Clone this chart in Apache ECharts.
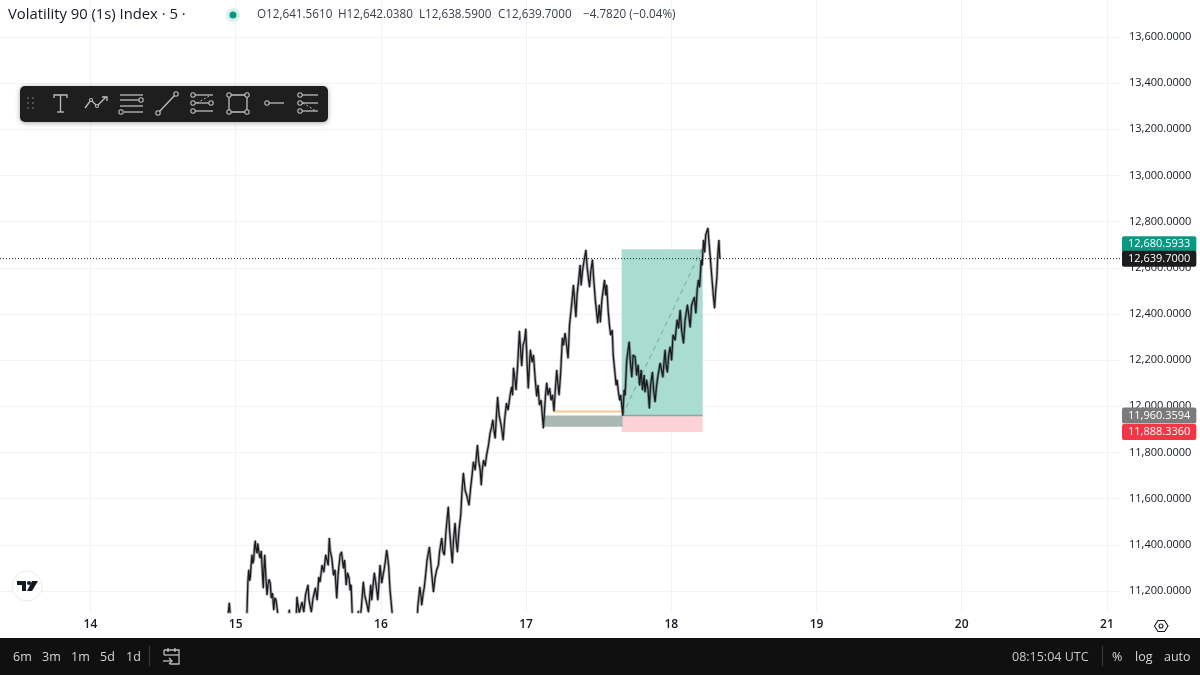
<!DOCTYPE html>
<html>
<head>
<meta charset="utf-8">
<style>html,body{margin:0;padding:0;background:#fff}#chart{width:1200px;height:675px}</style>
<script src="https://cdn.jsdelivr.net/npm/echarts@6/dist/echarts.min.js"></script>
</head>
<body>
<div id="chart"></div>
<script>
// price path, day of month / index level (below 11,109 is off the chart)
const priceDays = [
14.941,14.956,14.968,15.071,15.078,15.084,15.090,15.096,15.101,15.106,15.112,15.118,15.124,15.130,15.135,15.141,15.147,15.152,15.158,15.163,
15.169,15.176,15.183,15.190,15.195,15.200,15.208,15.216,15.222,15.230,15.238,15.245,15.254,15.262,15.270,15.278,15.291,15.296,15.365,15.369,
15.373,15.415,15.422,15.429,15.438,15.457,15.469,15.481,15.498,15.505,15.521,15.533,15.549,15.561,15.572,15.581,15.595,15.607,15.620,15.630,
15.637,15.645,15.650,15.662,15.674,15.684,15.696,15.705,15.719,15.729,15.742,15.750,15.761,15.770,15.781,15.788,15.795,15.802,15.809,15.836,
15.845,15.853,15.860,15.867,15.879,15.888,15.896,15.905,15.914,15.922,15.930,15.937,15.946,15.955,15.967,15.979,15.988,15.994,16.006,16.015,
16.022,16.032,16.040,16.049,16.054,16.063,16.077,16.084,16.249,16.254,16.268,16.277,16.281,16.290,16.299,16.308,16.318,16.334,16.342,16.349,
16.362,16.373,16.384,16.396,16.404,16.419,16.428,16.437,16.449,16.464,16.473,16.483,16.492,16.500,16.511,16.518,16.527,16.538,16.550,16.559,
16.568,16.580,16.594,16.607,16.618,16.628,16.637,16.649,16.665,16.673,16.684,16.691,16.698,16.707,16.718,16.728,16.741,16.752,16.761,16.771,
16.780,16.787,16.796,16.804,16.814,16.828,16.842,16.852,16.865,16.876,16.890,16.900,16.907,16.913,16.924,16.931,16.942,16.954,16.962,16.970,
16.979,16.990,16.998,17.006,17.015,17.023,17.030,17.041,17.051,17.061,17.073,17.082,17.092,17.103,17.119,17.127,17.134,17.142,17.151,17.162,
17.172,17.182,17.192,17.201,17.211,17.220,17.227,17.237,17.250,17.258,17.268,17.279,17.289,17.299,17.310,17.326,17.334,17.343,17.351,17.362,
17.372,17.379,17.389,17.400,17.412,17.421,17.437,17.445,17.457,17.466,17.477,17.493,17.504,17.511,17.522,17.540,17.548,17.555,17.565,17.574,
17.582,17.593,17.600,17.610,17.620,17.627,17.636,17.644,17.651,17.666,17.675,17.682,17.693,17.710,17.717,17.728,17.737,17.751,17.761,17.771,
17.782,17.792,17.802,17.813,17.819,17.830,17.840,17.849,17.857,17.870,17.878,17.888,17.899,17.909,17.923,17.933,17.942,17.951,17.957,17.964,
17.973,17.982,17.992,18.002,18.012,18.026,18.040,18.050,18.061,18.071,18.084,18.095,18.111,18.120,18.130,18.140,18.159,18.169,18.178,18.187,
18.195,18.206,18.213,18.222,18.230,18.237,18.252,18.261,18.268,18.278,18.289,18.298,18.306,18.314,18.320,18.328,18.332,18.334
];
const priceLevels = [
11053,11148,11053,11053,11109,11240,11291,11245,11260,11310,11356,11320,11334,11395,11417,11375,11365,11405,11399,11355,
11343,11373,11290,11213,11300,11356,11260,11183,11225,11250,11235,11170,11190,11118,11170,11161,11096,11053,11053,11118,
11053,11053,11174,11140,11105,11152,11109,11183,11226,11161,11109,11169,11213,11161,11260,11239,11312,11282,11356,11356,
11312,11429,11377,11343,11269,11291,11169,11269,11356,11369,11299,11334,11226,11278,11256,11204,11226,11109,11053,11053,
11113,11053,11053,11139,11239,11183,11191,11139,11109,11161,11226,11161,11226,11278,11226,11161,11247,11312,11235,11269,
11291,11334,11377,11334,11304,11204,11109,11053,11053,11130,11217,11174,11139,11183,11217,11269,11334,11390,11334,11282,
11196,11256,11291,11312,11369,11429,11369,11356,11464,11564,11464,11386,11321,11421,11494,11421,11369,11464,11529,11637,
11711,11637,11607,11572,11646,11702,11759,11724,11832,11767,11724,11659,11724,11767,11741,11789,11832,11884,11906,11941,
11889,11862,11962,12040,11962,11919,11854,11941,12014,11984,12049,12083,12049,12166,12114,12071,12179,12326,12244,12175,
12265,12287,12335,12200,12079,12179,12244,12192,12222,12131,12044,12092,12006,12027,11906,11984,12049,12101,12049,12079,
12027,12049,11980,12071,12157,12092,12049,12135,12296,12265,12317,12265,12209,12352,12417,12525,12460,12387,12482,12547,
12612,12525,12590,12634,12677,12599,12517,12582,12634,12547,12460,12361,12439,12365,12460,12547,12482,12525,12417,12352,
12309,12330,12222,12157,12092,12114,12062,12027,12049,11962,12070,12049,12200,12279,12200,12127,12222,12214,12135,12179,
12092,12157,12071,12135,12062,12114,12071,11992,12092,12148,12071,12019,12092,12135,12187,12157,12127,12200,12244,12179,
12148,12222,12257,12200,12309,12287,12374,12339,12417,12330,12274,12374,12439,12395,12343,12439,12473,12404,12504,12547,
12517,12634,12612,12720,12668,12742,12772,12699,12647,12569,12482,12426,12504,12560,12655,12720,12664,12640
];
const dayTicks = [14, 15, 16, 17, 18, 19, 20, 21];
const priceTicks = [11200, 11400, 11600, 11800, 12000, 12200, 12400, 12600, 12800, 13000, 13200, 13400, 13600];

// position tool: entry, target, stop and the start/end days
const targetPrice = 12680.5933;
const entryPrice = 11960.3594;
const stopPrice = 11888.336;
const lastPrice = 12639.7;
const boxDays = [17.658, 18.216];
const zoneDays = [17.127, 17.665];
const zoneLow = 11912;
const orangeDays = [17.187, 17.66];
const orangePrice = 11978;
const dashDays = [17.662, 18.21];

const tagPrices = [targetPrice, lastPrice, entryPrice, stopPrice];
const tagLabels = ["12,680.5933", "12,639.7000", "11,960.3594", "11,888.3360"];
const tagColors = ["#089981", "#1c1c1e", "#7b7b7d", "#f23645"];

const xMin = 13.377, xMax = 21.09, yMin = 11109, yMax = 13760.3;
const FONT = '"Open Sans", "Noto Sans", sans-serif';

const chart = echarts.init(document.getElementById("chart"));

// toolbar and bottom bar drawing helpers
const ICON = "#bdbdbd";
const line = (pts, w, dash) => ({ type: "polyline", z: 120, shape: { points: pts }, style: { stroke: ICON, lineWidth: w || 1.3, fill: null, lineDash: dash || null } });
const ring = (x, y, r) => ({ type: "circle", z: 121, shape: { cx: x, cy: y, r: r || 2.2 }, style: { stroke: ICON, lineWidth: 1.1, fill: "#1e1e1e" } });
const text = (x, y, s, size, color, extra) => ({
  type: "text", z: 120, x, y,
  style: Object.assign({ text: s, fontSize: size, fill: color, fontFamily: FONT, textVerticalAlign: "middle" }, extra || {}),
});

const toolbar = [
  { type: "rect", z: 119, shape: { x: 20, y: 86, width: 308, height: 36, r: 5 }, style: { fill: "#1e1e1e", shadowBlur: 5, shadowColor: "rgba(0,0,0,0.35)", shadowOffsetY: 1 } },
];
[[28, 98], [33, 98], [28, 103], [33, 103], [28, 108], [33, 108]].forEach(([x, y]) =>
  toolbar.push({ type: "circle", z: 120, shape: { cx: x, cy: y, r: 0.9 }, style: { fill: "#666" } }));
toolbar.push(
  line([[54, 98], [54, 95], [67, 95], [67, 98]]), line([[60.5, 95], [60.5, 112]]), line([[57, 112], [64, 112]]),
  line([[85, 108], [91, 100], [97, 106], [106, 97]]), line([[102, 97], [107, 97], [107, 101]]),
  ring(91, 100, 1.5), ring(97, 106, 1.5),
  line([[120, 95], [143, 95]]), line([[120, 100], [139, 100]]), line([[120, 106], [143, 106]]), line([[124, 112], [143, 112]]),
  ring(141, 100), ring(121, 112),
  line([[159, 112], [175, 95]]), ring(158, 113), ring(176, 94),
  line([[195, 95], [213, 95]]), line([[195, 103], [213, 103]]), line([[195, 111], [213, 111]]), line([[197, 103], [211, 95]], 1, [2, 2]),
  ring(193, 95), ring(193, 103), ring(193, 111), ring(211, 103),
  line([[229, 95], [247, 95], [247, 112], [229, 112], [229, 95]]),
  ring(229, 95), ring(247, 95), ring(229, 112), ring(247, 112),
  line([[268, 103], [284, 103]]), ring(267, 103),
  line([[300, 95], [318, 95]]), line([[300, 103], [318, 103]]), line([[300, 111], [318, 111]]), line([[303, 103], [316, 111]], 1, [2, 2]),
  ring(300, 95), ring(300, 103), ring(300, 111)
);

const footer = [
  { type: "rect", z: 110, shape: { x: 0, y: 638, width: 1200, height: 37 }, style: { fill: "#101010" } },
  { type: "rect", z: 111, shape: { x: 149, y: 646, width: 1, height: 20 }, style: { fill: "#3a3a3a" } },
  { type: "rect", z: 111, shape: { x: 1102, y: 646, width: 1, height: 20 }, style: { fill: "#3a3a3a" } },
  text(13, 657, "6m", 12.5, "#d6d6d6"), text(42, 657, "3m", 12.5, "#d6d6d6"), text(71, 657, "1m", 12.5, "#d6d6d6"),
  text(100, 657, "5d", 12.5, "#d6d6d6"), text(126, 657, "1d", 12.5, "#d6d6d6"),
  line([[164, 650], [179, 650], [179, 664], [170, 664]]), line([[164, 655], [179, 655]]), line([[164, 650], [164, 655]]),
  line([[168, 648], [168, 652]]), line([[175, 648], [175, 652]]),
  line([[163, 661], [172, 661]]), line([[169, 658], [172, 661], [169, 664]]),
  text(1012, 657, "08:15:04 UTC", 12.5, "#c8c8c8"), text(1112, 657, "%", 12.5, "#d6d6d6"),
  text(1135, 657, "log", 12.5, "#d6d6d6"), text(1164, 657, "auto", 12.5, "#d6d6d6"),
];

const header = [
  text(8, 15, "Volatility 90 (1s) Index · 5 ·", 14.8, "#131722"),
  { type: "circle", z: 120, shape: { cx: 233, cy: 15, r: 7 }, style: { fill: "#d9f0ec" } },
  { type: "circle", z: 121, shape: { cx: 233, cy: 15, r: 3.5 }, style: { fill: "#089981" } },
  text(257, 15, "O12,641.5610", 11.7, "#3a3e4a"),
  text(338, 15, "H12,642.0380", 11.7, "#3a3e4a"),
  text(419, 15, "L12,638.5900", 11.7, "#3a3e4a"),
  text(498, 15, "C12,639.7000", 11.7, "#3a3e4a"),
  text(583, 15, "−4.7820 (−0.04%)", 11.7, "#3a3e4a"),
];

const logo = [
  { type: "circle", z: 120, shape: { cx: 27, cy: 586, r: 15 }, style: { fill: "#fff", stroke: "#ececec", lineWidth: 1 } },
  { type: "polygon", z: 121, shape: { points: [[17, 581], [26, 581], [26, 591], [22, 591], [22, 585], [17, 585]] }, style: { fill: "#131722" } },
  { type: "circle", z: 121, shape: { cx: 29, cy: 583, r: 2 }, style: { fill: "#131722" } },
  { type: "polygon", z: 121, shape: { points: [[32, 581], [38, 581], [32, 591], [27, 591]] }, style: { fill: "#131722" } },
];

const gear = [
  { type: "polygon", z: 120, shape: { points: [[1154.5, 626], [1158, 620.5], [1164.5, 620.5], [1168, 626], [1164.5, 631.5], [1158, 631.5]] }, style: { stroke: "#131722", lineWidth: 1.1, fill: "#fff" } },
  { type: "circle", z: 121, shape: { cx: 1161, cy: 626, r: 2 }, style: { stroke: "#131722", lineWidth: 1.1, fill: "#fff" } },
];

const pricePoints = priceDays.map((d, i) => [d, priceLevels[i]]);

const option = {
  animation: false,
  backgroundColor: "#fff",
  grid: { left: 0, right: 80, top: 0, bottom: 63, containLabel: false },
  xAxis: {
    type: "value", min: xMin, max: xMax,
    axisLine: { show: false },
    axisTick: { show: false, customValues: dayTicks },
    axisLabel: { customValues: dayTicks, color: "#131722", fontSize: 12, fontWeight: 600, fontFamily: FONT, margin: 7 },
    splitLine: { show: true, lineStyle: { color: "#f1f2f4", width: 1 } },
  },
  yAxis: {
    type: "value", position: "right", min: yMin, max: yMax,
    axisLine: { show: false },
    axisTick: { show: false, customValues: priceTicks },
    axisLabel: {
      customValues: priceTicks, color: "#131722", fontSize: 11, fontFamily: FONT, margin: 9,
      formatter: (v) => v.toLocaleString("en-US", { minimumFractionDigits: 4 }),
    },
    splitLine: { show: true, lineStyle: { color: "#f1f2f4", width: 1 } },
  },
  series: [
    {
      // position boxes and the grey zone sit behind the price
      type: "line", z: 2, symbol: "none", data: [],
      markArea: {
        silent: true,
        data: [
          [{ coord: [boxDays[0], targetPrice], itemStyle: { color: "#a9dcd3" } }, { coord: [boxDays[1], entryPrice] }],
          [{ coord: [boxDays[0], entryPrice], itemStyle: { color: "#fcd2d7" } }, { coord: [boxDays[1], stopPrice] }],
          [{ coord: [zoneDays[0], entryPrice], itemStyle: { color: "#aab8b4" } }, { coord: [zoneDays[1], zoneLow] }],
        ],
      },
    },
    {
      type: "line", z: 3, symbol: "none", silent: true,
      data: [[boxDays[0], entryPrice], [boxDays[1], entryPrice]],
      lineStyle: { color: "#8ea5a0", width: 1.5 },
    },
    {
      type: "line", z: 3, symbol: "none", silent: true,
      data: orangeDays.map((d) => [d, orangePrice]),
      lineStyle: { color: "#f6c88d", width: 2 },
    },
    {
      type: "line", z: 3, symbol: "none", silent: true,
      data: [[dashDays[0], entryPrice], [dashDays[1], targetPrice]],
      lineStyle: { color: "#78a8a0", width: 1, type: [5, 4] },
    },
    {
      // soft under-stroke gives the thick candle ribbon look of the 5 min bars
      type: "line", z: 4, symbol: "none", silent: true,
      data: pricePoints,
      lineStyle: { color: "rgba(50,50,55,0.4)", width: 3 },
    },
    {
      type: "line", z: 5, symbol: "none", silent: true,
      data: pricePoints,
      lineStyle: { color: "#1a1c20", width: 1.3, join: "round" },
    },
    {
      type: "line", z: 6, symbol: "none", silent: true,
      data: [[xMin, lastPrice], [xMax, lastPrice]],
      lineStyle: { color: "#1c1c1e", width: 1, type: [1, 2] },
    },
    {
      // price tags on the axis
      type: "scatter", z: 20, symbolSize: 0, silent: true, clip: false,
      itemStyle: { opacity: 1 },
      data: tagPrices.map((p, i) => ({
        value: [xMax, p],
        label: {
          show: true, position: "right", distance: 2, formatter: tagLabels[i],
          offset: [0, i === 0 ? -5 : 0],
          color: "#fff", fontSize: 11, fontFamily: FONT, opacity: 1,
          backgroundColor: tagColors[i], padding: [2, 6], borderRadius: 2, lineHeight: 12,
        },
      })),
    },
  ],
  graphic: { elements: [...header, ...toolbar, ...logo, ...gear, ...footer] },
};
chart.setOption(option);
</script>
</body>
</html>
